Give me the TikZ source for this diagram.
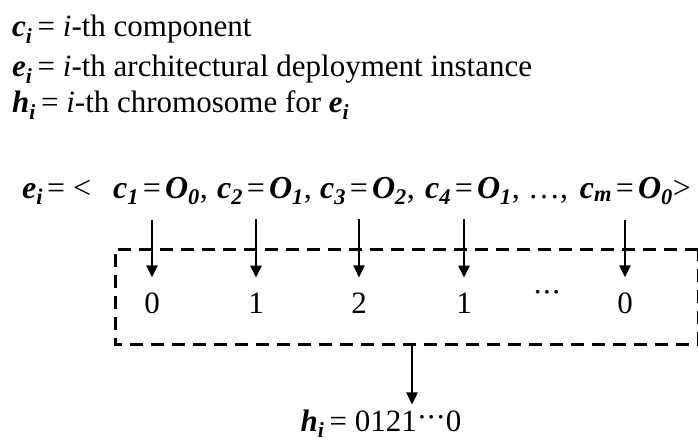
\documentclass[tikz,border=0pt]{standalone}
\usepackage{fontspec}
\setmainfont{Liberation Serif}
\usetikzlibrary{arrows.meta}

\newcommand{\bi}[1]{\textbf{\textit{#1}}}
\newcommand{\sbi}[1]{\textsubscript{\bi{#1}}}
\newcommand{\cdts}{\char"00B7\kern-1pt\char"00B7\kern-1pt\char"00B7}
% c_k = O_j with the node centred on its '='
\newcommand{\comp}[3]{\llap{\bi{c}\sbi{#1}\kern4pt}=\rlap{\kern4pt\bi{O}\sbi{#2}#3}}

\tikzset{
  txt/.style={font=\fontsize{31}{36}\selectfont, inner sep=0pt, anchor=base},
  big/.style={txt, font=\fontsize{32}{38}\selectfont},
  comp/.style={big, outer ysep=15pt},
  gene/.style={txt, outer ysep=15pt},
  box/.style={line width=3pt, dash pattern=on 13pt off 8pt},
  map/.style={line width=2.4pt, -{Triangle[length=12pt,width=11pt]}}
}

\begin{document}
\begin{tikzpicture}[x=1pt,y=-1pt]
    \useasboundingbox (0,0) rectangle (698,441);

    % Definitions
    \node[txt, anchor=base west] (defc) at (12,37) {\bi{c}\sbi{i}\,= \textit{i}-th component};
    \node[txt, anchor=base west] (defe) at (12,77) {\bi{e}\sbi{i}\,= \textit{i}-th architectural deployment instance};
    \node[txt, anchor=base west] (defh) at (12,113) {\bi{h}\sbi{i}\,= \textit{i}-th chromosome for \bi{e}\sbi{i}};

    % Deployment instance
    \node[big, anchor=base west] (inst) at (22,198) {\bi{e}\sbi{i}\kern4pt=\kern8pt\textless};
    \node[comp] (p1) at (152,198) {\comp{1}{0}{,}};
    \node[comp] (p2) at (256,198) {\comp{2}{1}{,}};
    \node[comp] (p3) at (359,198) {\comp{3}{2}{,}};
    \node[comp] (p4) at (464,198) {\comp{4}{1}{,}};
    \node[big, anchor=base west] (pdots) at (528,198) {\dots,};
    \node[comp] (pm) at (625,198) {\comp{m}{0}{\textgreater}};

    % Genes
    \node[gene] (g1) at (152,313) {0};
    \node[gene] (g2) at (256,313) {1};
    \node[gene] (g3) at (359,313) {2};
    \node[gene] (g4) at (464,313) {1};
    \node[txt] (gdots) at (547,302) {\cdts};
    \node[gene] (gm) at (625,313) {0};

    \foreach \k in {1,2,3,4,m}
        \draw[map] (p\k.south) -- (g\k.north);

    % Chromosome box
    \draw[box] (698,249) -- (115,249) -- (115,344) -- (698,344) -- cycle;

    % Chromosome
    \coordinate (out) at (412,344);
    \node[txt, outer ysep=5pt] (chrom) at (381,431) {\bi{h}\sbi{i}\,= 0121\raisebox{4pt}{\cdts}0};
    \draw[map] (out) -- (out |- chrom.north);
\end{tikzpicture}
\end{document}
